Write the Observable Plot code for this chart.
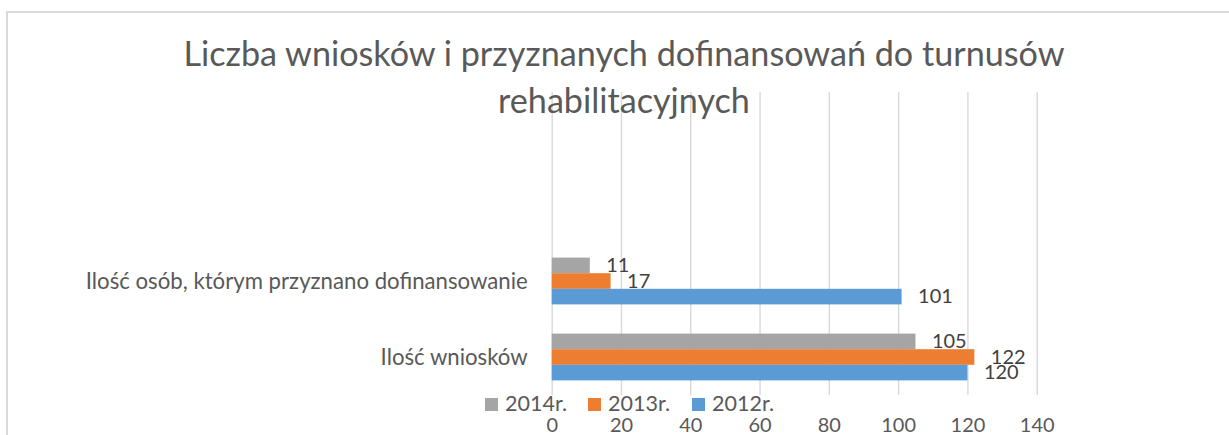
<!DOCTYPE html>
<html><head><meta charset="utf-8">
<script src="https://cdn.jsdelivr.net/npm/d3@7"></script>
<script src="https://cdn.jsdelivr.net/npm/@observablehq/plot@0.6"></script>
<style>
html,body{margin:0;padding:0;background:#fff;}
#wrap{position:relative;width:1229px;height:435px;overflow:hidden;font-family:Lato,"Open Sans",sans-serif;}
#frame{position:absolute;left:6px;top:11px;width:1400px;height:600px;border-left:2px solid #d9d9d9;border-top:2px solid #d9d9d9;box-sizing:border-box;}
#chart{position:absolute;left:0;top:0;}
.tl{position:absolute;left:0;width:1248px;text-align:center;color:#595959;white-space:nowrap;font-weight:400;}
.lg{position:absolute;color:#595959;white-space:nowrap;}
.sw{position:absolute;width:13px;height:13px;}
</style></head>
<body><div id="wrap"><div id="frame"></div><div id="chart"></div></div>
<script>
const categories = ["Ilość osób, którym przyznano dofinansowanie", "Ilość wniosków"];
const series = ["2014r.", "2013r.", "2012r."];
const values2014 = [11, 105];
const values2013 = [17, 122];
const values2012 = [101, 120];
const xTicks = [0, 20, 40, 60, 80, 100, 120, 140];
const seriesColors = ["#a5a5a5", "#ed7d31", "#5b9bd5"];
const titleLines = ["Liczba wniosków i przyznanych dofinansowań do turnusów", "rehabilitacyjnych"];

const FONT = "Lato";
const ctx = document.createElement("canvas").getContext("2d");
function fit(text, target, weight = 400) { ctx.font = `${weight} 100px ${FONT}`; return 100 * target / ctx.measureText(text).width; }
function metrics(size) { ctx.font = `${size}px ${FONT}`; const m = ctx.measureText("Hg"); return {a: m.fontBoundingBoxAscent, d: m.fontBoundingBoxDescent}; }
function baselineTop(size, baseline) { const m = metrics(size); const L = size; return baseline - ((L - (m.a + m.d)) / 2 + m.a); }

const titleSize = fit(titleLines[0], 883, 400);
const labelSize = fit(categories[0], 442);
const numSize = fit("100", 34.7);
const legendSize = fit(series[0], 62);

const seriesValues = [values2014, values2013, values2012];
const data = categories.flatMap((c, i) => series.map((s, j) => ({category: c, series: s, value: seriesValues[j][i]})));

const W = 1229, H = 435;
const yTop = 243, yBottom = 395;
const bandH = (yBottom - yTop) / categories.length;
const barH = 15.6;
const outer = (bandH - series.length * barH) / 2;

const marks = [
  Plot.gridX({ticks: xTicks, stroke: "#d9d9d9", strokeOpacity: 1, strokeWidth: 1.4}),
  ...series.flatMap((s, j) => {
    const d = data.filter(r => r.series === s);
    const top = outer + j * barH;
    return [
      Plot.barX(d, {x: "value", y: "category", fill: "series", insetTop: top, insetBottom: bandH - top - barH}),
      Plot.text(d, {x: "value", y: "category", text: r => String(r.value), dx: 16, dy: (j - 1) * barH, textAnchor: "start", fill: "#404040", fontSize: numSize})
    ];
  }),
  Plot.axisX({ticks: xTicks, tickSize: 0, tickPadding: 22.5, fontSize: numSize, label: null}),
  Plot.axisY({tickSize: 0, tickPadding: 24.5, fontSize: labelSize, label: null})
];

const chart = Plot.plot({
  width: W, height: H,
  marginLeft: 551.7, marginRight: W - 1036.7, marginTop: 92, marginBottom: H - yBottom,
  style: {fontFamily: FONT, color: "#595959", background: "transparent", overflow: "visible"},
  x: {domain: [0, 140]},
  y: {domain: categories, range: [yTop, yBottom], padding: 0},
  color: {domain: series, range: seriesColors},
  marks
});
document.getElementById("chart").appendChild(chart);

const wrap = document.getElementById("wrap");
const titleBaselines = [67, 114];
titleLines.forEach((t, i) => {
  const el = document.createElement("div");
  el.className = "tl"; el.textContent = t;
  el.style.fontSize = titleSize + "px"; el.style.lineHeight = titleSize + "px";
  el.style.top = baselineTop(titleSize, titleBaselines[i]) + "px";
  wrap.appendChild(el);
});

const legendX = [485, 588, 692];
series.forEach((s, j) => {
  const sw = document.createElement("div");
  sw.className = "sw"; sw.style.left = legendX[j] + "px"; sw.style.top = "398px"; sw.style.background = seriesColors[j];
  wrap.appendChild(sw);
  const t = document.createElement("div");
  t.className = "lg"; t.textContent = s;
  t.style.left = (legendX[j] + 20) + "px";
  t.style.fontSize = legendSize + "px"; t.style.lineHeight = legendSize + "px";
  t.style.top = baselineTop(legendSize, 412) + "px";
  wrap.appendChild(t);
});
</script>
</body></html>
